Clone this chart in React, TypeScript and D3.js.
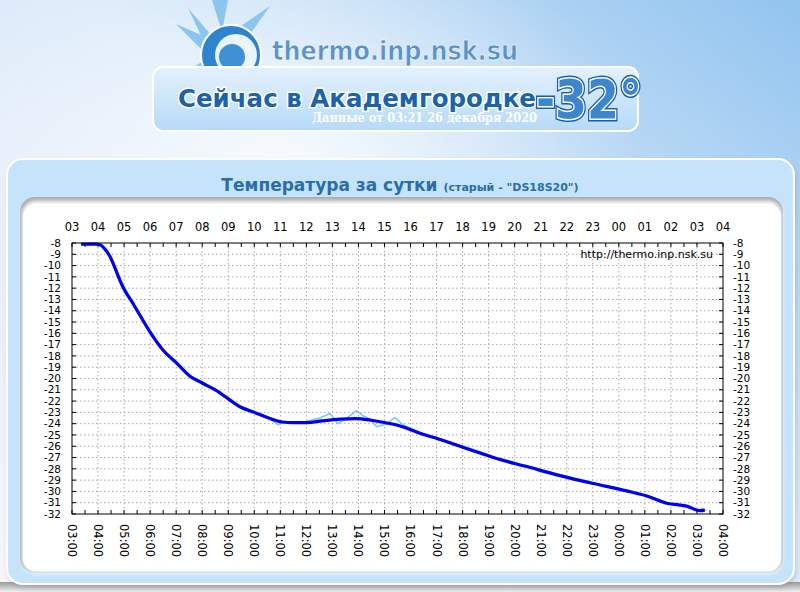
import * as d3 from "d3";

// smoothed temperature (hours since 00:00 Dec 25)
const smoothHours = [3.35, 3.6, 3.9, 4.08, 4.25, 4.46, 4.65, 4.84, 5.0, 5.3, 5.61, 6.0, 6.5, 7.0, 7.53, 8.0, 8.57, 9.0, 9.45, 10.0, 10.5, 11.07, 11.5, 12.02, 12.6, 13.3, 13.9, 14.5, 15.0, 15.6, 16.36, 17.13, 17.9, 18.67, 19.18, 20.46, 21.74, 23.02, 24.3, 25.07, 25.84, 26.6, 27.11, 27.3];
const smoothTemps = [-8.1, -8.1, -8.1, -8.15, -8.5, -9.2, -10.2, -11.3, -12.1, -13.2, -14.4, -15.9, -17.5, -18.6, -19.8, -20.4, -21.1, -21.8, -22.5, -23.0, -23.45, -23.85, -23.9, -23.9, -23.75, -23.6, -23.55, -23.7, -23.9, -24.2, -24.85, -25.4, -26.0, -26.6, -27.0, -27.8, -28.6, -29.3, -29.95, -30.4, -31.05, -31.3, -31.7, -31.65];

// raw sensor readings
const rawHours = [3.35, 4.08, 4.3, 4.5, 4.84, 5.3, 5.6, 6.0, 6.4, 6.6, 7.0, 7.5, 8.0, 8.6, 9.0, 9.5, 10.0, 10.5, 10.91, 11.2, 11.6, 12.0, 12.3, 12.52, 12.91, 13.21, 13.5, 13.93, 14.17, 14.45, 14.7, 15.09, 15.4, 15.71, 16.0, 16.4, 17.1, 17.9, 18.7, 19.2, 20.5, 21.7, 23.0, 24.3, 25.1, 25.8, 26.6, 27.1, 27.2, 27.35];
const rawTemps = [-8.1, -8.1, -8.6, -9.5, -11.2, -13.1, -14.3, -15.8, -17.3, -17.7, -18.5, -19.7, -20.3, -21.1, -21.7, -22.5, -22.9, -23.4, -24.1, -23.8, -23.9, -23.8, -23.6, -23.5, -23.1, -24.0, -23.6, -22.85, -23.3, -23.6, -24.27, -24.0, -23.47, -24.1, -24.4, -24.8, -25.3, -25.9, -26.5, -26.95, -27.75, -28.5, -29.25, -29.9, -30.35, -31.0, -31.25, -31.75, -31.5, -31.7];

const hourTicks = d3.range(3, 29);
const halfHourTicks = d3.range(3, 28.01, 0.5);
const tempTicks = d3.range(-32, -7);

const FONT = "DejaVu Sans, sans-serif";

export default function App() {
  const x = d3.scaleLinear().domain([3, 28]).range([72, 723]);
  const y = d3.scaleLinear().domain([-32, -8]).range([514, 243]);
  const hh = (h: number) => d3.format("02d")(h % 24);

  const smoothPath = d3.line<number>().x((d) => x(d)).y((d, i) => y(smoothTemps[i])).curve(d3.curveMonotoneX)(smoothHours);
  const rawPath = d3.line<number>().x((d) => x(d)).y((d, i) => y(rawTemps[i]))(rawHours);

  const [x0, x1] = x.range();
  const [y0, y1] = y.range();

  return (
    <svg width={800} height={592} style={{ position: "absolute", left: 0, top: 0 }}>
      <defs>
        <linearGradient id="sky" x1="0" y1="1" x2="1" y2="0">
          <stop offset="0" stopColor="#f7f5fb" />
          <stop offset="0.55" stopColor="#dbeafa" />
          <stop offset="1" stopColor="#92c4ef" />
        </linearGradient>
        <radialGradient id="glow" cx="0.35" cy="0.3" r="0.45">
          <stop offset="0" stopColor="#ffffff" stopOpacity="0.8" />
          <stop offset="1" stopColor="#ffffff" stopOpacity="0" />
        </radialGradient>
        <linearGradient id="bar" x1="0" y1="0" x2="0" y2="1">
          <stop offset="0" stopColor="#e4f1fd" />
          <stop offset="1" stopColor="#b6daf8" />
        </linearGradient>
        <linearGradient id="bottomShade" x1="0" y1="0" x2="0" y2="1">
          <stop offset="0" stopColor="#9a9a9a" />
          <stop offset="1" stopColor="#f0f0f0" />
        </linearGradient>
        <filter id="blur2"><feGaussianBlur stdDeviation="2" /></filter>
        <filter id="blur3"><feGaussianBlur stdDeviation="3" /></filter>
      </defs>

      {/* page background */}
      <rect width={800} height={592} fill="url(#sky)" />
      <rect width={800} height={592} fill="url(#glow)" />
      <rect x={0} y={582} width={800} height={10} fill="url(#bottomShade)" />

      {/* header logo */}
      <g fill="#8cc6ee">
        <polygon points="212,0 228,0 222,32" />
        <polygon points="270,6 246,40 238,28" />
        <polygon points="176,24 208,38 202,50" />
        <polygon points="174,78 202,62 208,74" />
        <polygon points="188,8 212,36 204,42" />
      </g>
      <circle cx={231} cy={55} r={30} fill="#2f84cf" stroke="#ffffff" strokeWidth={2} />
      <circle cx={236} cy={55} r={21} fill="#e9f4fd" />
      <circle cx={232} cy={57} r={13} fill="#3f91d6" />
      <text x={272} y={60} fontFamily={FONT} fontSize={27} fontWeight="bold" fill="#5b93c6" stroke="#ffffff" strokeWidth={0.6} textLength={246} lengthAdjust="spacingAndGlyphs">thermo.inp.nsk.su</text>

      <rect x={153} y={67} width={485} height={64} rx={10} fill="url(#bar)" stroke="#ffffff" strokeWidth={2} />
      <text x={178} y={107} fontFamily={FONT} fontSize={25} fontWeight="bold" fill="#1d63ab" stroke="#ffffff" strokeWidth={3} paintOrder="stroke" textLength={358} lengthAdjust="spacingAndGlyphs">Сейчас в Академгородке</text>
      <g fontFamily={FONT} fontSize={54} fontWeight="bold">
        <text x={536} y={118} fill="none" stroke="#1d5fa6" strokeWidth={6} textLength={106} lengthAdjust="spacingAndGlyphs">-32°</text>
        <text x={536} y={118} fill="#3b86cc" stroke="#ffffff" strokeWidth={3} paintOrder="stroke" textLength={106} lengthAdjust="spacingAndGlyphs">-32°</text>
      </g>
      <text x={312} y={122} fontFamily="DejaVu Serif, serif" fontSize={12} fontWeight="bold" fill="#ffffff" textLength={225} lengthAdjust="spacingAndGlyphs">Данные от 03:21 26 декабря 2020</text>

      {/* outer panel */}
      <rect x={9} y={163} width={786} height={424} rx={16} fill="#888888" opacity={0.5} filter="url(#blur3)" />
      <rect x={7} y={159} width={787} height={425} rx={16} fill="#c5e3fb" stroke="#ffffff" strokeWidth={2} />
      <text x={400} y={191} textAnchor="middle" fontFamily={FONT} fill="#2a6ea8" fontWeight="bold">
        <tspan fontSize={17}>Температура за сутки </tspan>
        <tspan fontSize={11}>(старый - "DS18S20")</tspan>
      </text>

      {/* inner panel */}
      <rect x={20} y={197} width={763} height={376} rx={15} fill="#a9a9a9" />
      <rect x={22} y={201} width={760} height={372} rx={14} fill="#ffffff" filter="url(#blur2)" />
      <rect x={23} y={204} width={758} height={367} rx={13} fill="#ffffff" />

      {/* grid */}
      <g stroke="#a8a8a8" strokeWidth={1} strokeDasharray="1.5,2.5">
        {hourTicks.slice(1, -1).map((h) => (
          <line key={"gx" + h} x1={x(h)} x2={x(h)} y1={y1} y2={y0} />
        ))}
        {tempTicks.slice(1, -1).map((t) => (
          <line key={"gy" + t} x1={x0} x2={x1} y1={y(t)} y2={y(t)} />
        ))}
      </g>

      {/* ticks */}
      <g stroke="#000000" strokeWidth={1}>
        {halfHourTicks.map((h) => (
          <g key={"t" + h}>
            <line x1={x(h)} x2={x(h)} y1={y1} y2={y1 + 4} />
            <line x1={x(h)} x2={x(h)} y1={y0} y2={y0 - 4} />
          </g>
        ))}
        {tempTicks.map((t) => (
          <g key={"ty" + t}>
            <line x1={x0} x2={x0 + 4} y1={y(t)} y2={y(t)} />
            <line x1={x1} x2={x1 - 4} y1={y(t)} y2={y(t)} />
          </g>
        ))}
      </g>

      <text x={713} y={258} textAnchor="end" fontFamily={FONT} fontSize={11} fill="#000">http://thermo.inp.nsk.su</text>

      {/* data */}
      <path d={rawPath ?? ""} fill="none" stroke="#7cc6f0" strokeWidth={1.5} strokeLinejoin="round" />
      <path d={smoothPath ?? ""} fill="none" stroke="#0000f0" strokeWidth={3.2} strokeLinejoin="round" />

      <rect x={x0} y={y1} width={x1 - x0} height={y0 - y1} fill="none" stroke="#000000" strokeWidth={1} />

      {/* labels */}
      <g fontFamily={FONT} fontSize={11.5} fill="#000">
        {hourTicks.map((h) => (
          <text key={"lt" + h} x={x(h)} y={231} textAnchor="middle">{hh(h)}</text>
        ))}
        {hourTicks.map((h) => (
          <text key={"lb" + h} transform={`translate(${x(h)},${524}) rotate(90)`} dy="0.35em">{hh(h) + ":00"}</text>
        ))}
      </g>
      <g fontFamily={FONT} fontSize={10.5} fill="#000">
        {tempTicks.map((t) => (
          <text key={"ll" + t} x={61} y={y(t)} dy="0.35em" textAnchor="end">{t}</text>
        ))}
        {tempTicks.map((t) => (
          <text key={"lr" + t} x={733} y={y(t)} dy="0.35em">{t}</text>
        ))}
      </g>
    </svg>
  );
}
